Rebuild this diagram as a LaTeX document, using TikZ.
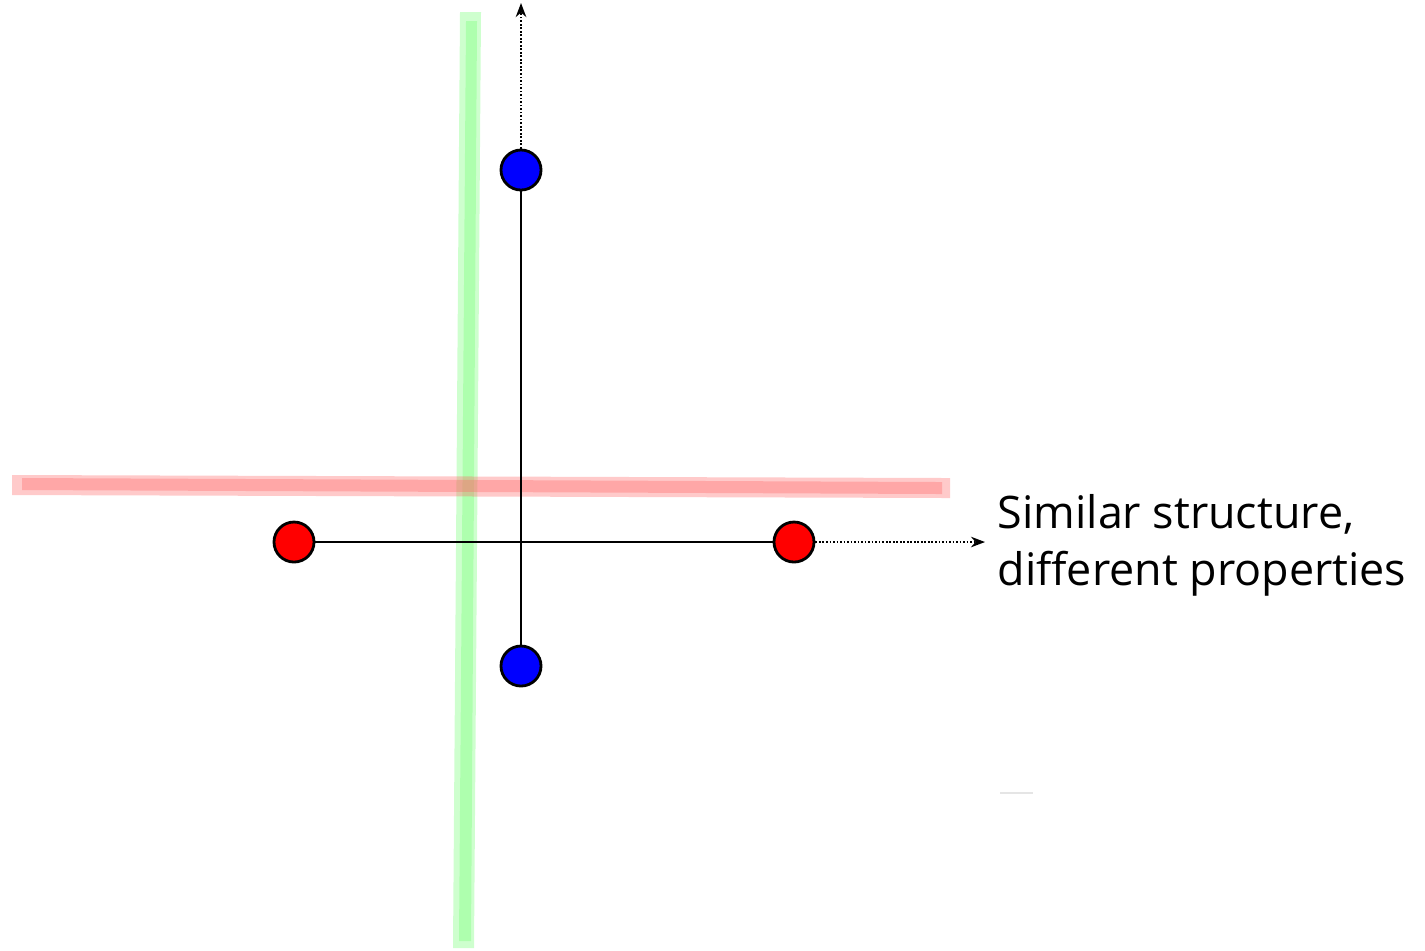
\documentclass[tikz,border=0pt]{standalone}
\usepackage{fontspec}
\usepackage{xcolor}
\setmainfont{Open Sans}
\usetikzlibrary{arrows.meta}

\begin{document}
\begin{tikzpicture}[x=0.01cm, y=-0.01cm,
    atom/.style={circle, draw=black, line width=0.8pt, minimum size=0.4cm, inner sep=0pt},
    bond/.style={line width=0.45pt},
    guide/.style={dash pattern=on 0.5pt off 0.5pt, line width=0.55pt, -{Stealth[length=4pt, width=3pt]}}]
  \useasboundingbox (0,0) rectangle (1425,950);
  % mirror planes
  \fill[green!55, fill opacity=0.35] (460,12) -- (481,12) -- (474,948) -- (453,948) -- cycle;
  \fill[green!55, fill opacity=0.35] (466,21) -- (477,21) -- (471,941) -- (459,941) -- cycle;
  \fill[red!60, fill opacity=0.35] (12,475) -- (950,478) -- (950,498) -- (12,495) -- cycle;
  \fill[red!60, fill opacity=0.35] (22,478) -- (942,482) -- (942,494) -- (22,490) -- cycle;
  % atoms
  \node[atom, fill=blue] (bt) at (521,170) {};
  \node[atom, fill=blue] (bb) at (521,666) {};
  \node[atom, fill=red] (rl) at (294,542) {};
  \node[atom, fill=red] (rr) at (794,542) {};
  \coordinate (up) at (521,3);
  \coordinate (out) at (985,542);
  \draw[bond] (bt) -- (bb);
  \draw[bond] (rl) -- (rr);
  \draw[guide] (bt) -- (up);
  \draw[guide] (rr) -- (out);
  \node[anchor=west, align=left, inner sep=0pt, font=\fontsize{12.75}{16.2}\selectfont] (txt) at (997,545)
    {Similar structure,\\different properties};
  \draw[black!10, line width=0.8pt] (1000,793) -- (1033,793);
\end{tikzpicture}
\end{document}
